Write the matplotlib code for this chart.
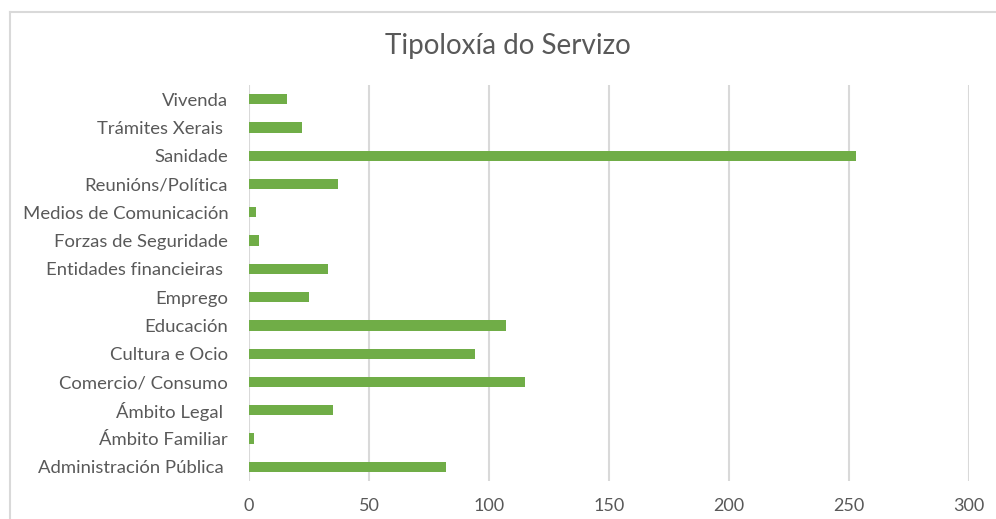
import matplotlib
matplotlib.use("Agg")
import matplotlib.pyplot as plt
from matplotlib.lines import Line2D

plt.rcParams['font.family'] = ['Lato', 'DejaVu Sans']

# categories from bottom to top, as Excel draws them
categories = [
    "Administración Pública ",
    "Ámbito Familiar",
    "Ámbito Legal ",
    "Comercio/ Consumo",
    "Cultura e Ocio",
    "Educación",
    "Emprego",
    "Entidades financieiras ",
    "Forzas de Seguridade",
    "Medios de Comunicación",
    "Reunións/Política",
    "Sanidade",
    "Trámites Xerais ",
    "Vivenda",
]
values = [82, 2, 35, 115, 94, 107, 25, 33, 4, 3, 37, 253, 22, 16]
x_ticks = [0, 50, 100, 150, 200, 250, 300]

text_color = "#595959"
grid_color = "#D9D9D9"
bar_color = "#70AD47"

fig = plt.figure(figsize=(9.96, 5.19), dpi=100)
ax = fig.add_axes([249 / 996, 1 - 481 / 519, 720 / 996, 396 / 519])

ypos = list(range(len(categories)))
ax.barh(ypos, values, height=0.36, color=bar_color, zorder=3)

ax.set_xlim(0, 300)
ax.set_ylim(-0.5, len(categories) - 0.5)
ax.set_xticks(x_ticks)
ax.set_yticks(ypos)
ax.set_yticklabels(categories)
ax.tick_params(axis="both", length=0, colors=text_color)
ax.tick_params(axis="y", pad=15, labelsize=13.3)
ax.tick_params(axis="x", pad=12, labelsize=13)

ax.grid(axis="x", color=grid_color, linewidth=1.5, zorder=0)
for s in ax.spines.values():
    s.set_visible(False)

# outer chart border (cropped on right and bottom)
fig.add_artist(Line2D([9.5 / 996, 1.0], [1 - 11.5 / 519, 1 - 11.5 / 519],
                      transform=fig.transFigure, color=grid_color, linewidth=1.5))
fig.add_artist(Line2D([9.5 / 996, 9.5 / 996], [0.0, 1 - 11.5 / 519],
                      transform=fig.transFigure, color=grid_color, linewidth=1.5))

fig.text(508 / 996, 1 - 46 / 519, "Tipoloxía do Servizo", ha="center", va="center",
         fontsize=20, color=text_color)

fig.savefig("out.png", dpi=100)
